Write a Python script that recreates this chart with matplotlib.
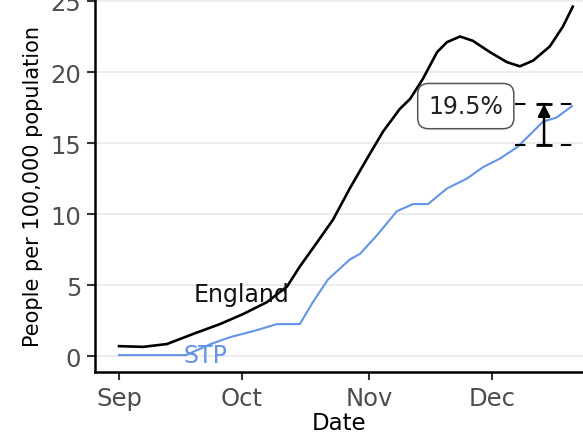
import matplotlib
matplotlib.use("Agg")
import matplotlib.pyplot as plt

# days since 1 Sep, people per 100,000 population
england_day = [0, 5.9, 11.7, 18, 24.6, 30.2, 36.1, 41, 44.1, 48.3, 52.2, 56.3,
               60.5, 64.4, 68.5, 71, 74.1, 77.6, 80, 83.2, 86.3, 90.5, 94.6,
               97.8, 101, 105.1, 108.3, 110.7]
england_val = [0.7, 0.65, 0.85, 1.55, 2.25, 2.95, 3.8, 4.9, 6.3, 8.0, 9.6, 11.8,
               13.9, 15.8, 17.4, 18.1, 19.5, 21.4, 22.1, 22.5, 22.2, 21.4, 20.7,
               20.4, 20.8, 21.8, 23.2, 24.6]

stp_day = [0, 16.3, 22.4, 27.3, 32.7, 38.5, 44.1, 47.3, 51, 56.3, 58.8, 62.9,
           67.8, 71.7, 75.4, 80, 84.9, 88.8, 92.9, 97.1, 101, 103.4, 106.8, 110.5]
stp_val = [0.07, 0.07, 0.85, 1.35, 1.75, 2.25, 2.25, 3.8, 5.4, 6.8, 7.2, 8.5,
           10.2, 10.7, 10.7, 11.8, 12.5, 13.3, 13.9, 14.7, 15.8, 16.5, 16.8, 17.6]

month_ticks = [0, 30, 61, 91]
month_labels = ["Sep", "Oct", "Nov", "Dec"]

gap_top = 17.75
gap_bottom = 14.85
gap_label = "19.5%"

fig = plt.figure(figsize=(5.83, 4.39), dpi=100)
ax = fig.add_axes([0.163, 0.150, 0.837, 0.850])

ax.plot(england_day, england_val, color="black", lw=1.9, zorder=3,
        solid_joinstyle="round")
ax.plot(stp_day, stp_val, color="#6494e8", lw=1.5, zorder=3,
        solid_joinstyle="round")

ax.text(30, 4.4, "England", fontsize=17, color="#111111", ha="center", va="center", zorder=4)
ax.text(21.2, 0.1, "STP", fontsize=17, color="#6494e8", ha="center", va="center", zorder=4)

# gap annotation
ax.plot([96.6, 111], [gap_top, gap_top], color="black", lw=1.5, dashes=(5, 6), zorder=4)
ax.plot([96.6, 111], [gap_bottom, gap_bottom], color="black", lw=1.5, dashes=(5, 6), zorder=4)
ax.annotate("", xy=(103.7, gap_top), xytext=(103.7, gap_bottom),
            arrowprops=dict(arrowstyle="-|>", color="black", lw=1.8,
                            mutation_scale=18, shrinkA=0, shrinkB=0), zorder=5)
ax.plot([103.7, 103.7], [gap_bottom, gap_top], ls="none", marker="_",
        ms=11, mew=2.0, color="black", zorder=5)
ax.text(84.6, 17.6, gap_label, fontsize=17, color="#222222", ha="center", va="center",
        bbox=dict(boxstyle="round,pad=0.45", fc="white", ec="#555555", lw=1.1), zorder=6)

ax.set_xlim(-5.85, 113.2)
ax.set_ylim(-1.13, 25.14)
ax.set_xticks(month_ticks)
ax.set_xticklabels(month_labels)
ax.set_yticks([0, 5, 10, 15, 20, 25])
ax.grid(axis="y", color="#ebebeb", lw=1.3)
ax.set_axisbelow(True)

for side in ["top", "right"]:
    ax.spines[side].set_visible(False)
for side in ["left", "bottom"]:
    ax.spines[side].set_linewidth(1.8)
ax.tick_params(length=6, width=1.5, color="#333333", labelsize=17.5,
               labelcolor="#4d4d4d", pad=4)

ax.set_xlabel("Date", fontsize=16.5, labelpad=1)
ax.set_ylabel("People per 100,000 population", fontsize=15, labelpad=5)

fig.savefig("out.png", dpi=100)
